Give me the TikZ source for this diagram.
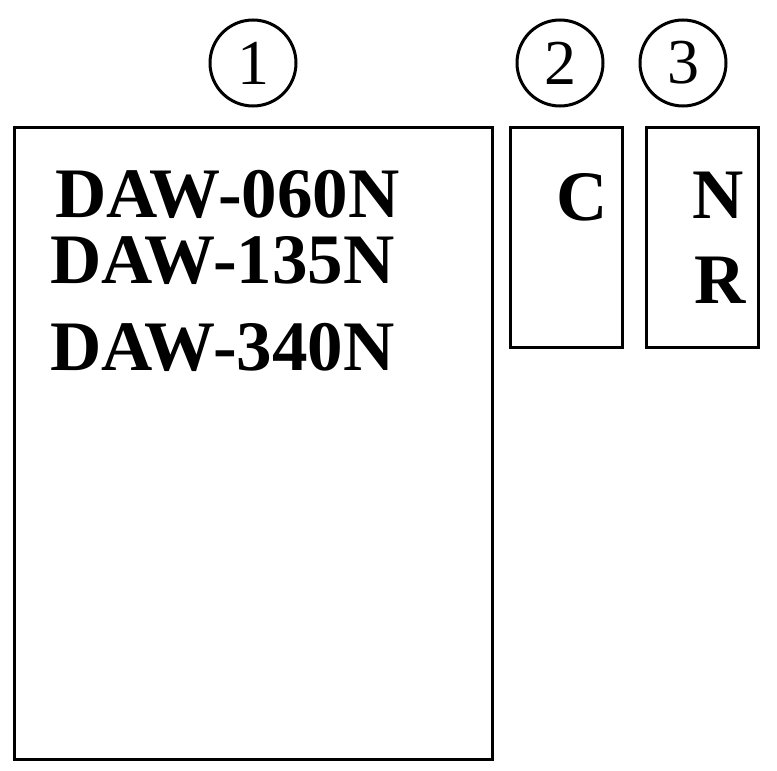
\documentclass[tikz,border=0pt]{standalone}
\usepackage{fontspec}
\setmainfont{Liberation Serif}
\begin{document}
\begin{tikzpicture}[x=1pt,y=-1pt,
  box/.style={draw,line width=3pt},
  lbl/.style={anchor=base west,inner sep=0pt,font=\fontsize{71}{71}\selectfont\bfseries},
  num/.style={draw,circle,line width=3pt,minimum size=86pt,inner sep=0pt,font=\fontsize{64}{64}\selectfont}]
\useasboundingbox (0,0) rectangle (777,771);
\draw[box] (14,127) rectangle (492,759);
\draw[box] (510,127) rectangle (622,347);
\draw[box] (646,127) rectangle (758,347);
\node[num] (n1) at (253,63) {1};
\node[num] (n2) at (560,63) {2};
\node[num] (n3) at (683,63) {3};
\node[lbl] (t1) at (55,217) {DAW-060N};
\node[lbl] (t2) at (50,283) {DAW-135N};
\node[lbl] (t3) at (50,370) {DAW-340N};
\node[lbl] (c) at (556,220) {C};
\node[lbl] (nn) at (692,218) {N};
\node[lbl] (r) at (694,303) {R};
\end{tikzpicture}
\end{document}
